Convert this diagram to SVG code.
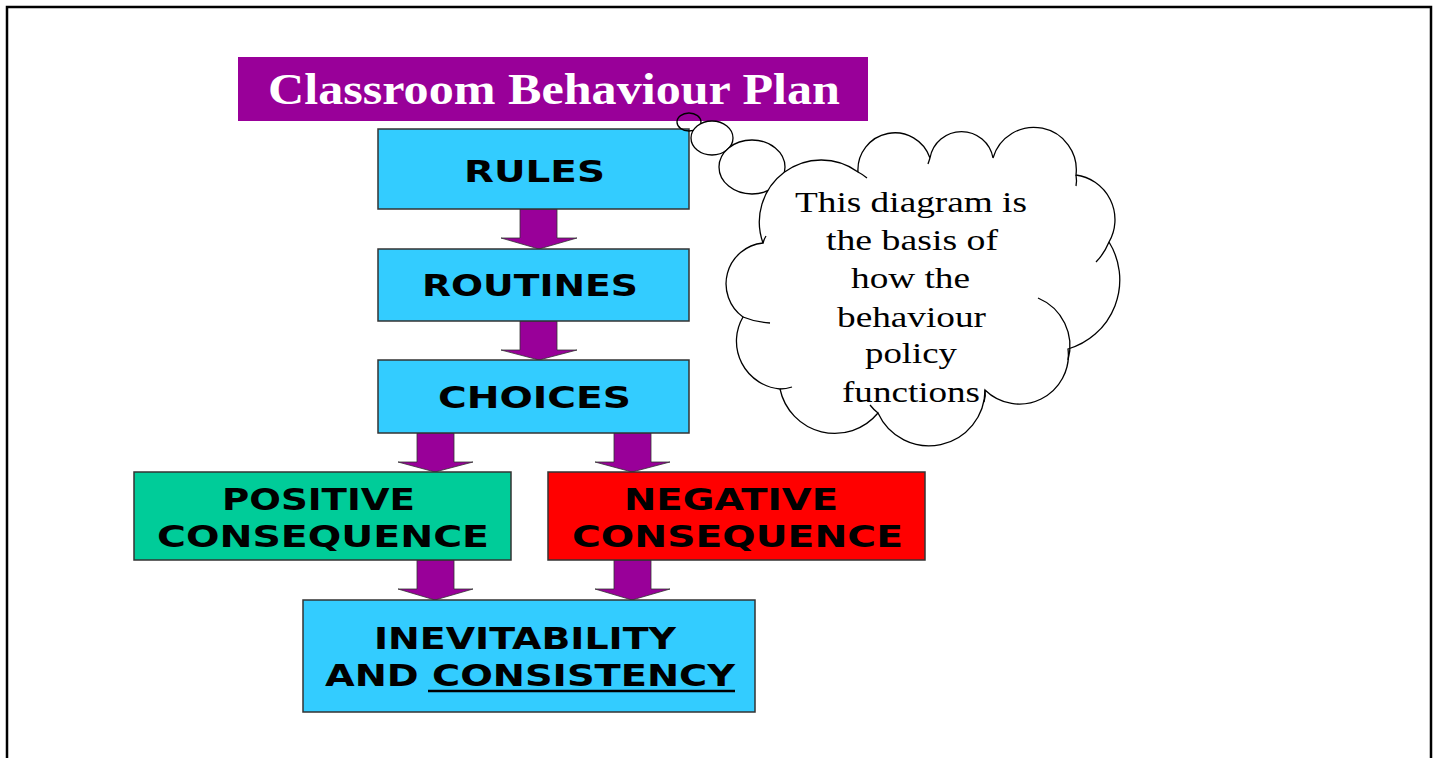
<svg xmlns="http://www.w3.org/2000/svg" width="1438" height="758" viewBox="0 0 1438 758">
<style>
.box{stroke:#333;stroke-width:1.5}
.cy{fill:#33CCFF}
.lbl{font-family:"DejaVu Sans",sans-serif;font-weight:bold;font-size:30px;fill:#000}
.arrow{fill:#990099;stroke:#333;stroke-width:0.8}
.cloudtxt{font-family:"Liberation Serif","Times New Roman",serif;font-size:30px;fill:#000;text-anchor:start}
.cl{fill:none;stroke:#000;stroke-width:1.3}
</style>
<rect width="1438" height="758" fill="#fff"/>
<path d="M7,758 V7 H1431 V758" fill="none" stroke="#000" stroke-width="2.5"/>

<g id="title">
<rect x="238" y="57" width="630" height="64" fill="#990099"/>
<text x="268" y="104" font-family="Liberation Serif,serif" font-weight="bold" font-size="44" fill="#fff" textLength="572" lengthAdjust="spacingAndGlyphs">Classroom Behaviour Plan</text>
</g>

<g id="connectors">
<polygon class="arrow" points="520,209 557,209 557,238 577,238 539,249 501,238 520,238"/>
<polygon class="arrow" points="520,321 557,321 557,350 577,350 539,360 501,350 520,350"/>
<polygon class="arrow" points="417,433 454,433 454,462 473,462 435,472 398,462 417,462"/>
<polygon class="arrow" points="614,433 651,433 651,462 670,462 632,472 595,462 614,462"/>
<polygon class="arrow" points="417,560 454,560 454,589 473,589 435,600 398,589 417,589"/>
<polygon class="arrow" points="614,560 651,560 651,589 670,589 632,600 595,589 614,589"/>
</g>

<g id="rules">
<rect class="box cy" x="378" y="129" width="311" height="80"/>
<text class="lbl" x="464" y="182" textLength="141" lengthAdjust="spacingAndGlyphs">RULES</text>
</g>
<g id="routines">
<rect class="box cy" x="378" y="249" width="311" height="72"/>
<text class="lbl" x="422" y="296" textLength="216" lengthAdjust="spacingAndGlyphs">ROUTINES</text>
</g>
<g id="choices">
<rect class="box cy" x="378" y="360" width="311" height="73"/>
<text class="lbl" x="438" y="408" textLength="193" lengthAdjust="spacingAndGlyphs">CHOICES</text>
</g>
<g id="positive">
<rect class="box" x="134" y="472" width="377" height="88" fill="#00CC99"/>
<text class="lbl" x="222" y="510" textLength="193" lengthAdjust="spacingAndGlyphs">POSITIVE</text>
<text class="lbl" x="157" y="547" textLength="332" lengthAdjust="spacingAndGlyphs">CONSEQUENCE</text>
</g>
<g id="negative">
<rect class="box" x="548" y="472" width="377" height="88" fill="#FF0000"/>
<text class="lbl" x="624" y="510" textLength="214" lengthAdjust="spacingAndGlyphs">NEGATIVE</text>
<text class="lbl" x="572" y="547" textLength="331" lengthAdjust="spacingAndGlyphs">CONSEQUENCE</text>
</g>
<g id="inevitability">
<rect class="box cy" x="303" y="600" width="452" height="112"/>
<text class="lbl" x="374" y="649" textLength="302" lengthAdjust="spacingAndGlyphs">INEVITABILITY</text>
<text class="lbl" x="325" y="686" textLength="410" lengthAdjust="spacingAndGlyphs">AND CONSISTENCY</text>
<line x1="428" y1="691" x2="735" y2="691" stroke="#000" stroke-width="2.5"/>
</g>

<g id="thought-cloud">
<ellipse cx="689" cy="122" rx="12" ry="9" fill="none" stroke="#000" stroke-width="1.3"/>
<ellipse cx="712" cy="138" rx="21" ry="17" fill="#fff" stroke="#000" stroke-width="1.3"/>
<ellipse cx="752" cy="167" rx="33" ry="27" fill="#fff" stroke="#000" stroke-width="1.3"/>
<path d="M763,243 A62,62 0 0 1 858,172 A37,37 0 0 1 930,158 A32,32 0 0 1 993,158 A42.5,42.5 0 0 1 1076,175 A45,45 0 0 1 1109,242 A72,72 0 0 1 1068,349 A49,49 0 0 1 985,390 A56,56 0 0 1 878,413 A56,56 0 0 1 780,389 A48,48 0 0 1 743,317 A41,41 0 0 1 763,243 Z" fill="#fff" stroke="#000" stroke-width="1.3"/>
<path class="cl" d="M1038,298 A52,52 0 0 1 1068,360"/>
<path class="cl" d="M1109,242 Q1104,254 1096,262"/>
<path class="cl" d="M1076,175 Q1077,181 1076,186"/>
<path class="cl" d="M743,317 Q755,322 770,323"/>
<path class="cl" d="M780,389 Q786,389 792,387"/>
<path class="cl" d="M763,243 Q764,239 766,236"/>
<path class="cl" d="M858,172 Q862,174 867,178"/>
<path class="cl" d="M930,158 Q929,161 928,164"/>
<path class="cl" d="M985,390 Q986,396 984,402"/>
<path class="cl" d="M878,413 Q874,410 870,405"/>
<text class="cloudtxt" x="795" y="212" textLength="232" lengthAdjust="spacingAndGlyphs">This diagram is</text>
<text class="cloudtxt" x="826" y="250" textLength="172" lengthAdjust="spacingAndGlyphs">the basis of</text>
<text class="cloudtxt" x="851" y="288" textLength="119" lengthAdjust="spacingAndGlyphs">how the</text>
<text class="cloudtxt" x="837" y="327" textLength="149" lengthAdjust="spacingAndGlyphs">behaviour</text>
<text class="cloudtxt" x="865" y="363" textLength="92" lengthAdjust="spacingAndGlyphs">policy</text>
<text class="cloudtxt" x="842" y="402" textLength="138" lengthAdjust="spacingAndGlyphs">functions</text>
</g>
</svg>
